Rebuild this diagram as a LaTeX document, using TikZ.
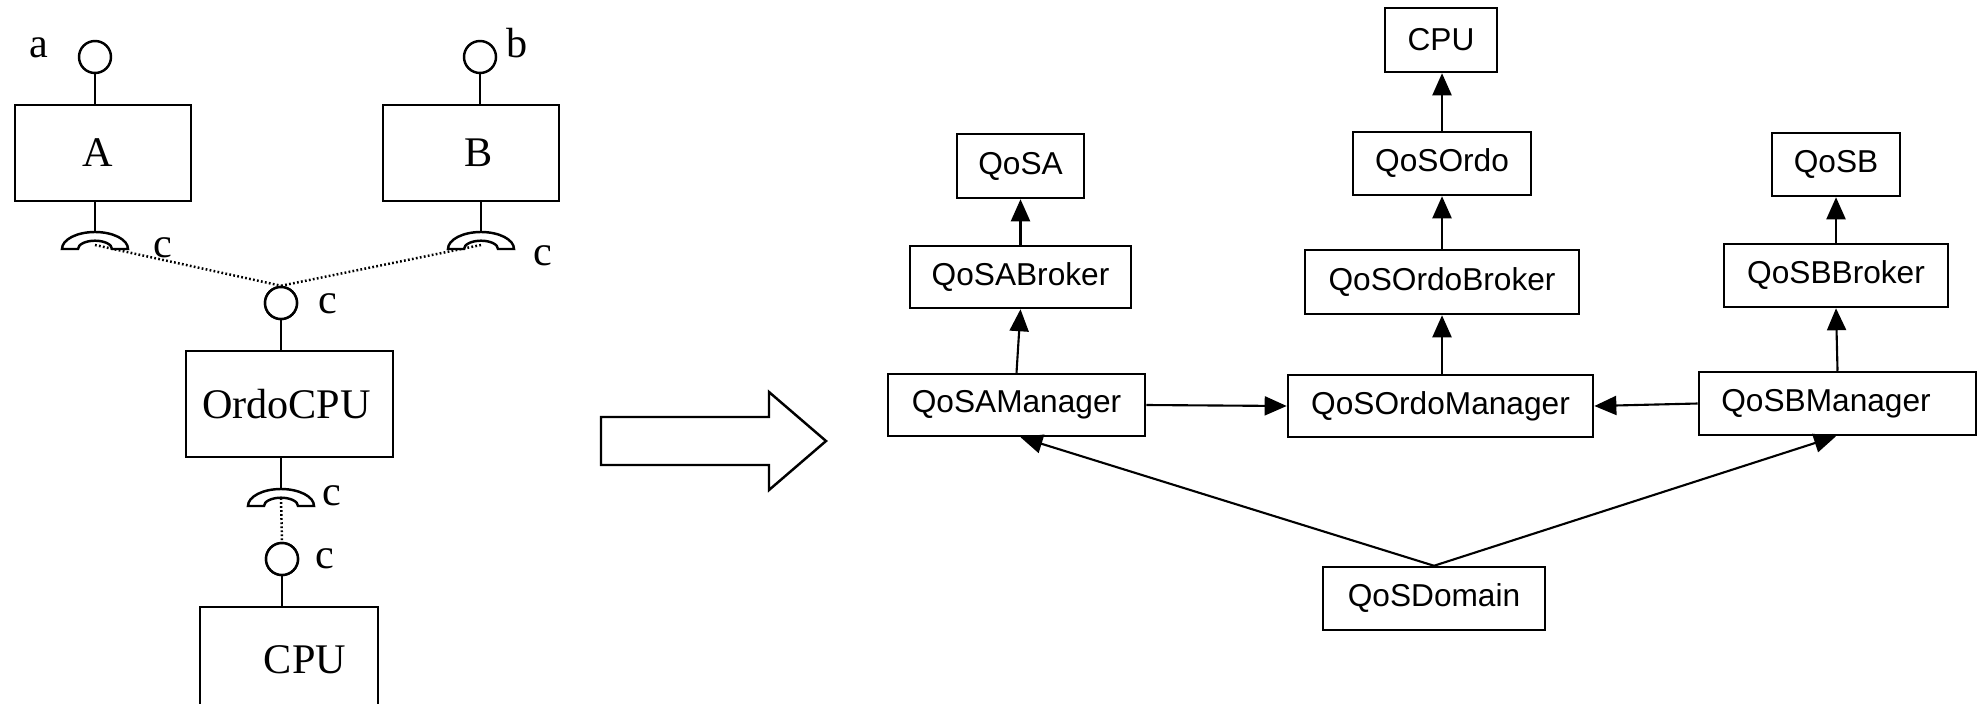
\documentclass[tikz,border=0pt]{standalone}
\usepackage{fontspec}
\setmainfont{Liberation Serif}
\newfontfamily\umlsans{Liberation Sans}
\usetikzlibrary{arrows.meta}

\tikzset{
  comp/.style={draw, line width=0.7pt, inner sep=0pt, font=\fontsize{12}{14}\selectfont},
  port/.style={draw, circle, line width=0.7pt, minimum size=0.32cm, inner sep=0pt, fill=white},
  lbl/.style={inner sep=0pt, anchor=base, font=\fontsize{12}{14}\selectfont},
  wire/.style={line width=0.7pt},
  link/.style={line width=0.7pt, dash pattern=on 0.5pt off 0.65pt},
  sock/.style={draw, line width=0.7pt, fill=white},
  cls/.style={draw, line width=0.7pt, inner sep=0pt, font=\umlsans\fontsize{9}{11}\selectfont},
  dep/.style={line width=0.6pt, -{Triangle[length=2.2mm,width=1.9mm]}},
  bigarrow/.style={draw, line width=0.7pt, line join=miter},
}

% required-interface socket: half ring standing on its base point
\newcommand\socketat[1]{%
  \path[sock] ([xshift=-0.33cm]#1)
    arc[start angle=180, end angle=0, x radius=0.33cm, y radius=0.17cm]
    -- ([xshift=0.17cm]#1)
    arc[start angle=0, end angle=180, x radius=0.17cm, y radius=0.083cm]
    -- cycle;}

\begin{document}
\begin{tikzpicture}[x=0.01cm, y=-0.01cm]
\useasboundingbox (0,0) rectangle (1980,703);
\clip (0,0) rectangle (1980,703);

% ---------------- component view ----------------
\node[comp, minimum width=1.76cm, minimum height=0.96cm] (A) at (103,153) {A\hspace*{0.1cm}};
\node[comp, minimum width=1.76cm, minimum height=0.96cm] (B) at (471,153) {\hspace*{0.16cm}B};
\node[comp, minimum width=2.07cm, minimum height=1.06cm] (O) at (289.5,404) {OrdoCPU\hspace*{0.06cm}};
\node[comp, minimum width=1.78cm, minimum height=1.05cm] (C) at (289,659.5) {\hspace*{0.32cm}CPU};

\coordinate (sa) at (95,249);
\coordinate (sb) at (481,249);
\coordinate (so) at (281,506);

% assembly links
\node[port] (pc) at (281,303) {};
\node[port] (pd) at (282,559) {};
\draw[link] ([yshift=0.04cm]sa) -- (pc.north);
\draw[link] ([yshift=0.04cm]sb) -- (pc.north);
\draw[link] ([yshift=0.08cm]so) -- (pd.north);

% provided ports
\node[port] (pa) at (95,57) {};
\node[port] (pb) at (480,57) {};
\node[port] at (pc) {};
\node[port] at (pd) {};

% stems
\draw[wire] (pa.south) -- (A.north -| pa.south);
\draw[wire] (pb.south) -- (B.north -| pb.south);
\draw[wire] (A.south -| sa) -- ([yshift=0.17cm]sa);
\draw[wire] (B.south -| sb) -- ([yshift=0.17cm]sb);
\draw[wire] (pc.south) -- (O.north -| pc.south);
\draw[wire] (O.south -| so) -- ([yshift=0.17cm]so);
\draw[wire] (pd.south) -- (C.north -| pd.south);

% required sockets
\socketat{sa}
\socketat{sb}
\socketat{so}

% port names
\node[lbl] (la) at (38.5,57) {a};
\node[lbl] (lb) at (516.6,57) {b};
\node[lbl] (c1) at (162.5,257) {c};
\node[lbl] (c2) at (542.5,265) {c};
\node[lbl] (c3) at (327.5,313) {c};
\node[lbl] (c4) at (331.7,505) {c};
\node[lbl] (c5) at (325,568) {c};

% ---------------- transformation arrow ----------------
\path[bigarrow] (601,417) -- (769,417) -- (769,392) -- (826,441)
  -- (769,490) -- (769,465) -- (601,465) -- cycle;

% ---------------- QoS view ----------------
\node[cls, minimum width=1.12cm, minimum height=0.64cm] (cpuR) at (1441,40) {CPU};
\node[cls, minimum width=1.78cm, minimum height=0.63cm] (ordo) at (1442,163.5) {QoSOrdo};
\node[cls, minimum width=2.74cm, minimum height=0.64cm] (ordoB) at (1442,282) {QoSOrdoBroker};
\node[cls, minimum width=3.05cm, minimum height=0.62cm] (ordoM) at (1440.5,406) {QoSOrdoManager};

\node[cls, minimum width=1.27cm, minimum height=0.64cm] (qa) at (1020.5,166) {QoSA};
\node[cls, minimum width=2.21cm, minimum height=0.62cm] (qab) at (1020.5,277) {QoSABroker};
\node[cls, minimum width=2.57cm, minimum height=0.62cm] (qam) at (1016.5,405) {QoSAManager};

\node[cls, minimum width=1.28cm, minimum height=0.63cm] (qb) at (1836,164.5) {QoSB};
\node[cls, minimum width=2.24cm, minimum height=0.63cm] (qbb) at (1836,275.5) {QoSBBroker};
\node[cls, minimum width=2.77cm, minimum height=0.63cm] (qbm) at (1837.5,403.5) {QoSBManager\hspace*{0.23cm}};

\node[cls, minimum width=2.22cm, minimum height=0.63cm] (dom) at (1434,598.5) {QoSDomain};

\draw[dep] (ordo.north) -- (cpuR.south -| ordo.north);
\draw[dep] (ordoB.north) -- (ordo.south);
\draw[dep] (ordoM.north -| ordoB.south) -- (ordoB.south);
\draw[dep] (qab.north) -- (qa.south);
\draw[dep] (qam.north) -- (qab.south);
\draw[dep] (qbb.north) -- (qb.south);
\draw[dep] (qbm.north) -- (qbb.south);
\draw[dep] (qam.east) -- (ordoM.west);
\draw[dep] (qbm.west) -- (ordoM.east);
\draw[dep] (dom.north) -- (qam.south -| qab.south);
\draw[dep] (dom.north) -- (qbm.south -| qbb.south);
\end{tikzpicture}
\end{document}
